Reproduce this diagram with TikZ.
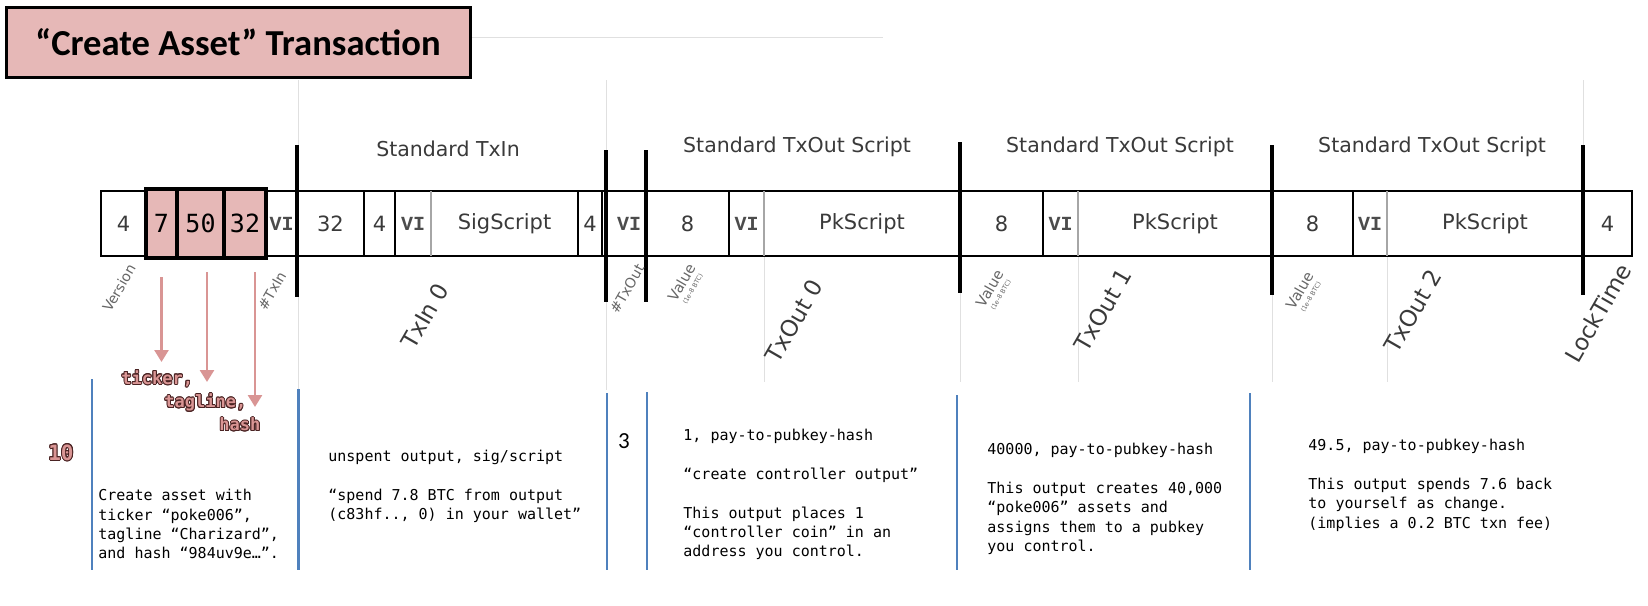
\documentclass[tikz,border=0pt]{standalone}
\usepackage{fontspec}
\usepackage[copies]{contour}
\usetikzlibrary{arrows.meta,calc}
\newfontfamily\dvs{DejaVu Sans}
\newfontfamily\dvm{DejaVu Sans Mono}
\newfontfamily\carl{Carlito}
\newfontfamily\lmo{Liberation Mono}
\definecolor{pinkfill}{HTML}{E6B8B7}
\definecolor{arrowpink}{HTML}{D99594}
\definecolor{labdark}{HTML}{4A2323}
\definecolor{bluebarc}{HTML}{4F81BD}
\definecolor{txtgrey}{HTML}{3A3A3A}
\contourlength{0.45pt}
\contournumber{16}
\tikzset{
  titlebox/.style={draw=black, line width=1.5pt, fill=pinkfill, minimum width=232pt, minimum height=35pt, inner sep=0pt, font=\carl\bfseries\fontsize{18.3}{20}\selectfont},
  cell/.style={inner sep=0pt, font=\dvs\fontsize{10.5}{12}\selectfont, text=txtgrey},
  vicell/.style={inner sep=0pt, font=\lmo\bfseries\fontsize{10}{11}\selectfont, text=black!70},
  pinkbox/.style={draw=black, line width=2pt, fill=pinkfill, minimum height=34.5pt, inner sep=0pt, font=\dvm\fontsize{12.5}{14}\selectfont},
  header/.style={inner sep=0pt, font=\dvs\fontsize{10.25}{12}\selectfont, text=txtgrey},
  smalllab/.style={inner sep=0pt, rotate=60, font=\dvs\fontsize{7}{8}\selectfont, text=black!60},
  vallab/.style={inner sep=0pt, rotate=60, align=center, font=\dvs\fontsize{7.3}{5}\selectfont, text=black!60},
  biglab/.style={inner sep=0pt, rotate=60, font=\dvs\fontsize{11.5}{13}\selectfont, text=txtgrey},
  border/.style={line width=1.4pt},
  sect/.style={line width=1.6pt},
  thindiv/.style={line width=0.6pt, black!35},
  faint/.style={line width=0.5pt, black!12},
  bluebar/.style={line width=1.3pt, bluebarc},
  parrow/.style={arrowpink, line width=1.3pt, -{Triangle[width=7pt,length=6pt]}},
  plabel/.style={inner sep=0pt, font=\dvm\bfseries\fontsize{8.5}{10}\selectfont},
  desc/.style={inner sep=0pt, anchor=north west, align=left, font=\dvm\fontsize{7.5}{9.65}\selectfont},
}
\begin{document}
\begin{tikzpicture}[x=0.5pt,y=-0.5pt]
\useasboundingbox (0,0) rectangle (1648,605);
% faint guide lines
\draw[faint] (470,37) -- (883,37);
\draw[faint] (298,80) -- (298,145) (298,297) -- (298,390);
\draw[faint] (606,80) -- (606,150) (606,302) -- (606,390);
\draw[faint] (960,293) -- (960,382) (1272,295) -- (1272,382);
\draw[faint] (764,256) -- (764,382) (1078,256) -- (1078,382) (1387,256) -- (1387,382);
\draw[faint] (1583,80) -- (1583,145);
% title
\node[titlebox] (title) at (238,42) {“Create Asset” Transaction};
% headers
\node[header] (hin) at (448,149) {Standard TxIn};
\node[header] (hout0) at (797,147) {Standard TxOut Script};
\node[header] (hout1) at (1120,147) {Standard TxOut Script};
\node[header] (hout2) at (1432,147) {Standard TxOut Script};
% row
\draw[border] (101,191) rectangle (1632,256);
\foreach \x in {364,395,578,602,729,1043,1353} \draw[border] (\x,191) -- (\x,256);
\foreach \x in {431,764,1078,1387} \draw[thindiv] (\x,191) -- (\x,256);
\draw[sect] (297,145) -- (297,297);
\draw[sect] (606,150) -- (606,302);
\draw[sect] (646,150) -- (646,302);
\draw[sect] (960,142) -- (960,293);
\draw[sect] (1272,145) -- (1272,295);
\draw[sect] (1583,145) -- (1583,295);
% cells
\node[cell] (ver) at (123.5,224) {4};
\node[pinkbox, minimum width=15.5pt] (b7) at (161.5,223.5) {7};
\node[pinkbox, minimum width=23.5pt] (b50) at (200.5,223.5) {50};
\node[pinkbox, minimum width=21pt] (b32) at (245,223.5) {32};
\node[vicell] (vi0) at (281.5,224) {VI};
\node[cell] (prev) at (330.5,224) {32};
\node[cell] (idx) at (379.5,224) {4};
\node[vicell] (vi1) at (413,224) {VI};
\node[cell] (sig) at (504.5,224) {SigScript};
\node[cell] (seq) at (590,224) {4};
\node[vicell] (vi2) at (629,224) {VI};
\node[cell] (val0) at (687.5,224) {8};
\node[vicell] (vi3) at (746.5,224) {VI};
\node[cell] (pk0) at (862,224) {PkScript};
\node[cell] (val1) at (1001.5,224) {8};
\node[vicell] (vi4) at (1060.5,224) {VI};
\node[cell] (pk1) at (1175,224) {PkScript};
\node[cell] (val2) at (1312.5,224) {8};
\node[vicell] (vi5) at (1370,224) {VI};
\node[cell] (pk2) at (1485,224) {PkScript};
\node[cell] (lock) at (1607.5,224) {4};
% rotated labels
\node[smalllab] (lver) at (119,288) {Version};
\node[smalllab] (ltxin) at (272,291) {\#TxIn};
\node[smalllab] (ltxout) at (627,289) {\#TxOut};
\node[vallab] (lval0) at (686,285) {Value\\{\fontsize{3.2}{4}\selectfont (1e-8 BTC)}};
\node[vallab] (lval1) at (994,291) {Value\\{\fontsize{3.2}{4}\selectfont (1e-8 BTC)}};
\node[vallab] (lval2) at (1304,293) {Value\\{\fontsize{3.2}{4}\selectfont (1e-8 BTC)}};
\node[biglab] (ltxin0) at (425,316) {TxIn 0};
\node[biglab] (ltxout0) at (794,321) {TxOut 0};
\node[biglab] (ltxout1) at (1103,310) {TxOut 1};
\node[biglab] (ltxout2) at (1413,311) {TxOut 2};
\node[biglab] (llock) at (1598,313) {LockTime};
% pink labels
\node[plabel, anchor=west] (tick) at (121,379) {\contour{labdark}{\textcolor{arrowpink}{ticker,}}};
\node[plabel, anchor=west] (tag) at (164,403) {\contour{labdark}{\textcolor{arrowpink}{tagline,}}};
\node[plabel, anchor=west] (hsh) at (219,425) {\contour{labdark}{\textcolor{arrowpink}{hash}}};
\node[plabel, font=\dvm\bfseries\fontsize{10.5}{12}\selectfont] (ten) at (61,453) {\contour{labdark}{\textcolor{arrowpink}{10}}};
\node[inner sep=0pt, font=\carl\fontsize{11.5}{13}\selectfont] (three) at (624,441) {3};
% arrows
\coordinate (t1) at (161.5,362);
\coordinate (t2) at (207,382);
\coordinate (t3) at (255,407);
\draw[parrow, shorten <=8.5pt] (b7.south -| t1) -- (t1);
\draw[parrow, shorten <=6pt] (b50.south -| t2) -- (t2);
\draw[parrow, shorten <=6pt] (b32.south -| t3) -- (t3);
% blue bars
\foreach \x/\y in {92/379, 298.5/389, 607/393, 647/392, 957/395, 1250/393}
  \draw[bluebar] (\x,\y) -- (\x,570);
% descriptions
\node[desc] (d0) at (98,489) {Create asset with\\ticker “poke006”,\\tagline “Charizard”,\\and hash “984uv9e…”.};
\node[desc] (d1) at (328,450) {unspent output, sig/script\\[9.65pt]“spend 7.8 BTC from output\\(c83hf.., 0) in your wallet”};
\node[desc] (d2) at (683,429) {1, pay-to-pubkey-hash\\[9.65pt]“create controller output”\\[9.65pt]This output places 1\\“controller coin” in an\\address you control.};
\node[desc] (d3) at (987,443) {40000, pay-to-pubkey-hash\\[9.65pt]This output creates 40,000\\“poke006” assets and\\assigns them to a pubkey\\you control.};
\node[desc] (d4) at (1308,439) {49.5, pay-to-pubkey-hash\\[9.65pt]This output spends 7.6 back\\to yourself as change.\\(implies a 0.2 BTC txn fee)};
\end{tikzpicture}
\end{document}
